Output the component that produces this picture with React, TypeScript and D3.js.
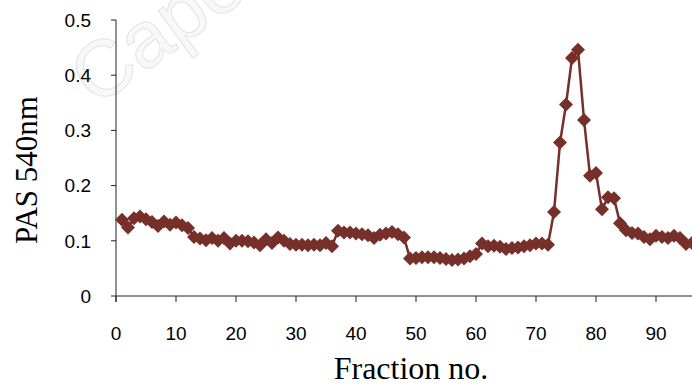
import * as d3 from 'd3';

// PAS absorbance at 540 nm for fractions 1..96
const pasValues = [
  0.138, 0.124, 0.141, 0.144, 0.139, 0.134, 0.127, 0.135, 0.129, 0.133,
  0.128, 0.123, 0.107, 0.104, 0.101, 0.105, 0.1, 0.105, 0.095, 0.1,
  0.1, 0.099, 0.097, 0.092, 0.103, 0.096, 0.106, 0.1, 0.094, 0.093,
  0.093, 0.092, 0.093, 0.092, 0.096, 0.09, 0.118, 0.115, 0.115, 0.113,
  0.112, 0.11, 0.105, 0.111, 0.113, 0.116, 0.112, 0.106, 0.068, 0.069,
  0.07, 0.07, 0.07, 0.069, 0.067, 0.065, 0.066, 0.068, 0.072, 0.076,
  0.095, 0.09, 0.091, 0.089, 0.085, 0.087, 0.088, 0.09, 0.092, 0.095,
  0.095, 0.093, 0.152, 0.278, 0.347, 0.431, 0.446, 0.319, 0.218, 0.223,
  0.157, 0.179, 0.177, 0.132, 0.119, 0.114, 0.113, 0.107, 0.103, 0.109,
  0.107, 0.105, 0.109, 0.105, 0.094, 0.096,
];
const xTicks = [0, 10, 20, 30, 40, 50, 60, 70, 80, 90];
const yTicks = [0, 0.1, 0.2, 0.3, 0.4, 0.5];

const points = pasValues.map((v, i) => ({ fraction: i + 1, value: v }));

export default function App() {
  const width = 692;
  const height = 385;
  const color = '#772f2a';

  const x = d3.scaleLinear().domain([0, 100]).range([116, 716]);
  const y = d3.scaleLinear().domain([0, 0.5]).range([296, 20]);

  const line = d3
    .line<{ fraction: number; value: number }>()
    .x((d) => x(d.fraction))
    .y((d) => y(d.value));
  const diamond = d3.symbol().type(d3.symbolSquare).size(98)() ?? '';

  return (
    <svg
      width={width}
      height={height}
      viewBox={`0 0 ${width} ${height}`}
      style={{ position: 'absolute', left: 0, top: 0, background: '#fff' }}
    >
      {/* faint watermark */}
      <text
        x={96}
        y={108}
        transform="rotate(-36 96 108)"
        fontFamily="Liberation Sans, Arial, sans-serif"
        fontSize={80}
        fill="#f8f8f8"
        stroke="#e3e3e3"
        strokeWidth={1}
      >
        Cape
      </text>

      {/* y axis */}
      <line x1={x(0)} x2={x(0)} y1={y(0.5)} y2={y(0) + 6} stroke="#222" strokeWidth={1} />
      {yTicks.map((t) => (
        <g key={t}>
          <line x1={x(0) - 5} x2={x(0)} y1={y(t)} y2={y(t)} stroke="#222" strokeWidth={1} />
          <text
            x={91}
            y={y(t)}
            dy="0.36em"
            textAnchor="end"
            fontFamily="Liberation Sans, Arial, sans-serif"
            fontSize={19}
            fill="#000"
          >
            {t}
          </text>
        </g>
      ))}

      {/* x axis */}
      <line x1={x(0)} x2={width} y1={y(0)} y2={y(0)} stroke="#222" strokeWidth={1} />
      {xTicks.map((t) => (
        <g key={t}>
          <line x1={x(t)} x2={x(t)} y1={y(0)} y2={y(0) + 6} stroke="#222" strokeWidth={1} />
          <text
            x={x(t)}
            y={340}
            textAnchor="middle"
            fontFamily="Liberation Sans, Arial, sans-serif"
            fontSize={19}
            fill="#000"
          >
            {t}
          </text>
        </g>
      ))}

      <path d={line(points) ?? ''} fill="none" stroke={color} strokeWidth={2.5} />
      {points.map((p) => (
        <path
          key={p.fraction}
          d={diamond}
          transform={`translate(${x(p.fraction)},${y(p.value)}) rotate(45)`}
          fill={color}
        />
      ))}

      <text
        x={411}
        y={379}
        textAnchor="middle"
        fontFamily="Liberation Serif, Times New Roman, serif"
        fontSize={32}
        fill="#000"
      >
        Fraction no.
      </text>
      <text
        transform="translate(37,170) rotate(-90)"
        textAnchor="middle"
        fontFamily="Liberation Serif, Times New Roman, serif"
        fontSize={31}
        fill="#000"
      >
        PAS 540nm
      </text>
    </svg>
  );
}
